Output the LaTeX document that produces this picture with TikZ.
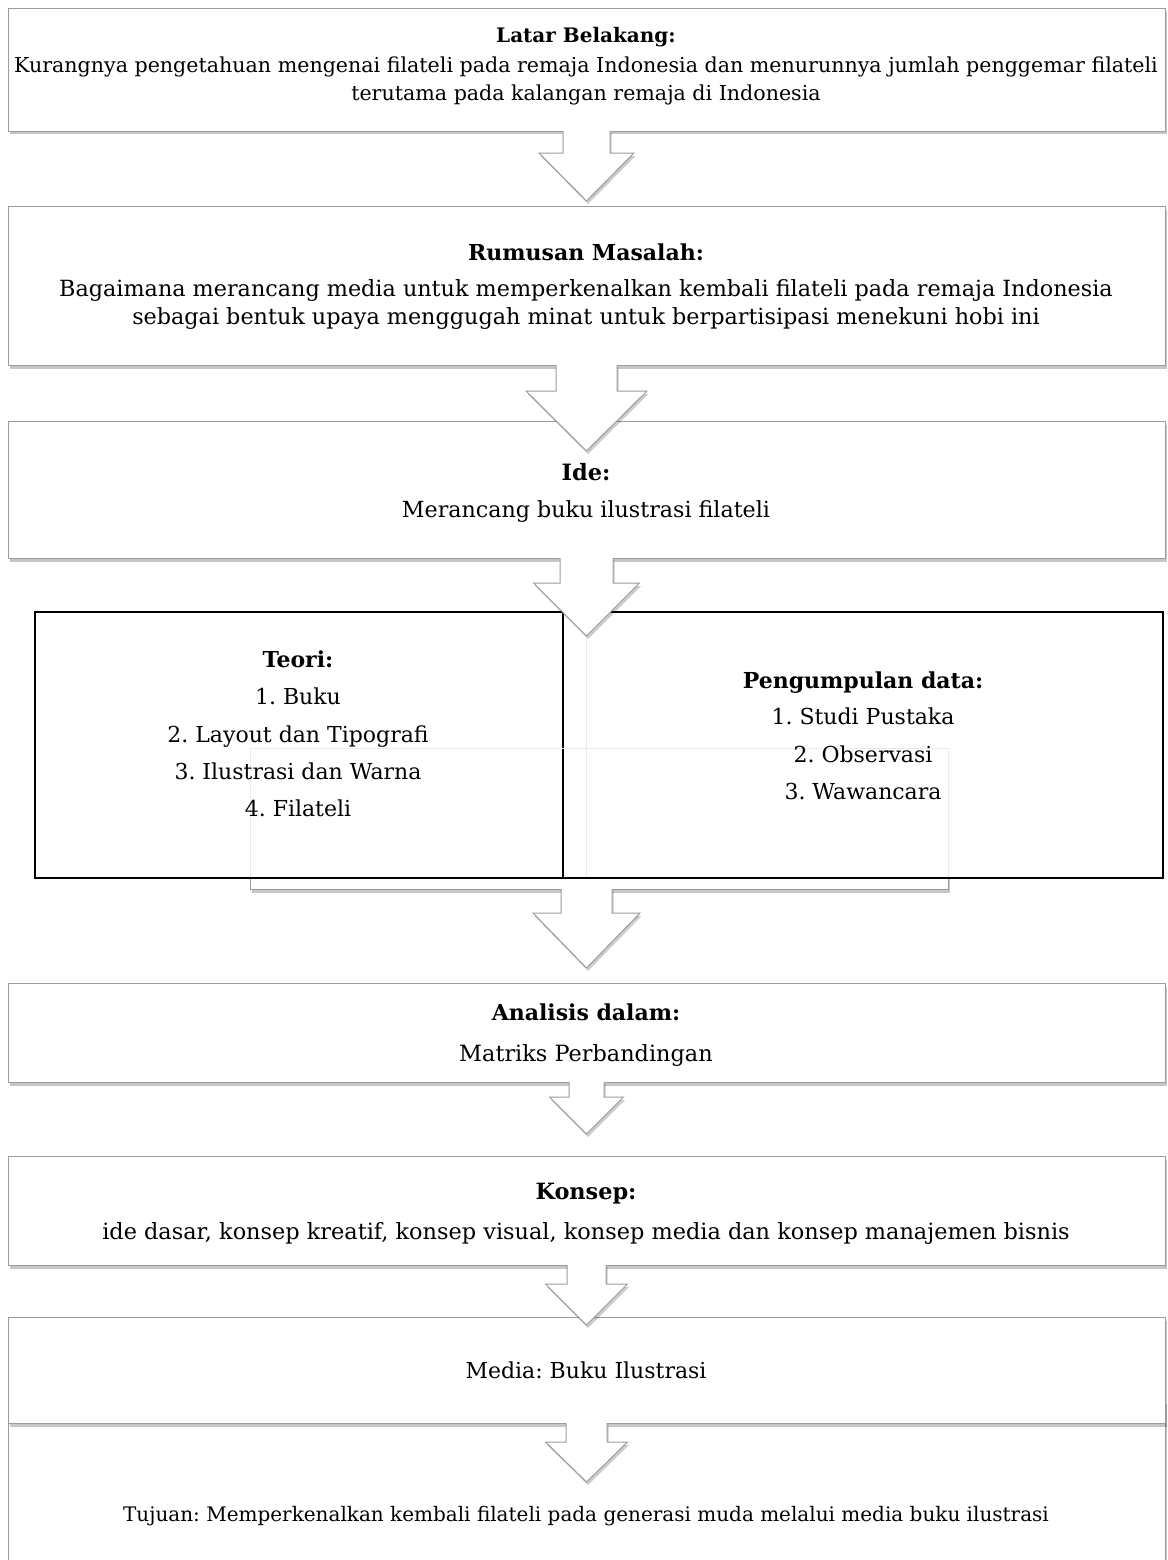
\documentclass[tikz,border=0pt]{standalone}
\usepackage{fontspec}
\setmainfont{DejaVu Serif}
\usetikzlibrary{shadows}
\definecolor{edge}{HTML}{9C9C9C}
\definecolor{faint}{HTML}{EBEBEB}
\newcommand\flowarrow[6]{%
  \fill[black,opacity=0.2] ({#1-#5+1.5},{#2+2}) -- ({#1-#5+1.5},{#3+3}) -- ({#1-#6+1.5},{#3+3}) -- ({#1+1.5},{#4+3}) -- ({#1+#6+1.5},{#3+3}) -- ({#1+#5+1.5},{#3+3}) -- ({#1+#5+1.5},{#2+2}) -- cycle;
  \fill[white] ({#1-#5},{#2-2}) -- ({#1-#5},#3) -- ({#1-#6},#3) -- (#1,#4) -- ({#1+#6},#3) -- ({#1+#5},#3) -- ({#1+#5},{#2-2}) -- cycle;
  \draw[arrowline] ({#1-#5},#2) -- ({#1-#5},#3) -- ({#1-#6},#3) -- (#1,#4) -- ({#1+#6},#3) -- ({#1+#5},#3) -- ({#1+#5},#2);
}
\newcommand\fs[1]{\fontsize{#1}{#1}\selectfont\frenchspacing}
\begin{document}
\begin{tikzpicture}[x=1pt,y=-1pt,
  box/.style={draw=edge, fill=white, line width=1pt, anchor=north west, inner sep=0pt,
    drop shadow={shadow xshift=1pt, shadow yshift=-3pt, fill=black, opacity=0.22}},
  arrowline/.style={draw=edge, line width=1pt, line join=miter},
  tbl/.style={draw=black, fill=white, line width=1.8pt, anchor=north west, inner sep=0pt},
  txt/.style={anchor=mid, inner sep=0pt, align=center, yshift=-4pt},
  hd/.style={txt, font=\bfseries}]
\useasboundingbox (0,0) rectangle (1167,1560);
\fill[white] (0,0) rectangle (1167,1560);

% Box 1
\node[box, minimum width=1157pt, minimum height=123pt] (b1) at (8,8) {};
\node[hd] (t1a) at (586,36) {\fs{20}Latar Belakang:};
\node[txt] (t1b) at (586,66) {\fs{20.6}Kurangnya pengetahuan mengenai filateli pada remaja Indonesia dan menurunnya jumlah penggemar filateli};
\node[txt] (t1c) at (586,94) {\fs{20.6}terutama pada kalangan remaja di Indonesia};

% Box 2
\node[box, minimum width=1157pt, minimum height=159pt] (b2) at (8,206) {};
\flowarrow{586.5}{131}{153}{201}{23.5}{47.5}
\node[hd] (t2a) at (586,254) {\fs{22}Rumusan Masalah:};
\node[txt] (t2b) at (586,290) {\fs{22.3}Bagaimana merancang media untuk memperkenalkan kembali filateli pada remaja Indonesia};
\node[txt] (t2c) at (586,318) {\fs{22.3}sebagai bentuk upaya menggugah minat untuk berpartisipasi menekuni hobi ini};

% Box 3
\node[box, minimum width=1157pt, minimum height=137pt] (b3) at (8,421) {};
\flowarrow{586.5}{365}{391}{451}{30.5}{60.5}
\node[hd] (t3a) at (586,474) {\fs{22.5}Ide:};
\node[txt] (t3b) at (586,511) {\fs{22.2}Merancang buku ilustrasi filateli};

% hidden box behind table
\node[box, minimum width=698pt, minimum height=141pt] (hb) at (250,748) {};
% table
\node[tbl, minimum width=1128pt, minimum height=266pt] (tb) at (34,611) {};
\draw[black, line width=1.8pt] (tb.north west -| 563,0) -- (tb.south west -| 563,0);
\draw[faint, line width=1pt] (250,877) -- (250,748) -- (948,748) -- (948,877);
\draw[faint, line width=1pt] (586,636) -- (586,877);
\flowarrow{586.5}{558}{583}{636}{26.5}{53}
\node[hd] (l0) at (298,661) {\fs{22}Teori:};
\node[txt] (l1) at (298,698) {\fs{22}1. Buku};
\node[txt] (l2) at (298,736) {\fs{22}2. Layout dan Tipografi};
\node[txt] (l3) at (298,773) {\fs{22}3. Ilustrasi dan Warna};
\node[txt] (l4) at (298,810) {\fs{22}4. Filateli};
\node[hd] (r0) at (863,682) {\fs{22}Pengumpulan data:};
\node[txt] (r1) at (863,718) {\fs{22}1. Studi Pustaka};
\node[txt] (r2) at (863,756) {\fs{22}2. Observasi};
\node[txt] (r3) at (863,793) {\fs{22}3. Wawancara};
\flowarrow{586.5}{889}{913}{968}{25.5}{53.5}

% Analisis
\node[box, minimum width=1157pt, minimum height=99pt] (b5) at (8,983) {};
\node[hd] (t5a) at (586,1014) {\fs{22}Analisis dalam:};
\node[txt] (t5b) at (586,1055) {\fs{22.4}Matriks Perbandingan};

% Konsep
\node[box, minimum width=1157pt, minimum height=109pt] (b6) at (8,1156) {};
\flowarrow{586.5}{1082}{1097}{1134}{17.5}{37}
\node[hd] (t6a) at (586,1193) {\fs{22.4}Konsep:};
\node[txt] (t6b) at (586,1233) {\fs{22.4}ide dasar, konsep kreatif, konsep visual, konsep media dan konsep manajemen bisnis};

% Tujuan and Media
\node[box, minimum width=1157pt, minimum height=200pt] (b8) at (8,1400) {};
\node[box, minimum width=1157pt, minimum height=106pt] (b7) at (8,1317) {};
\flowarrow{586.5}{1265}{1284}{1325}{19.5}{41}
\node[txt] (t7) at (586,1372) {\fs{22}Media: Buku Ilustrasi};
\flowarrow{586.5}{1423}{1442}{1482}{20.5}{41}
\node[txt] (t8) at (586,1515) {\fs{20}Tujuan: Memperkenalkan kembali filateli pada generasi muda melalui media buku ilustrasi};
\end{tikzpicture}
\end{document}
